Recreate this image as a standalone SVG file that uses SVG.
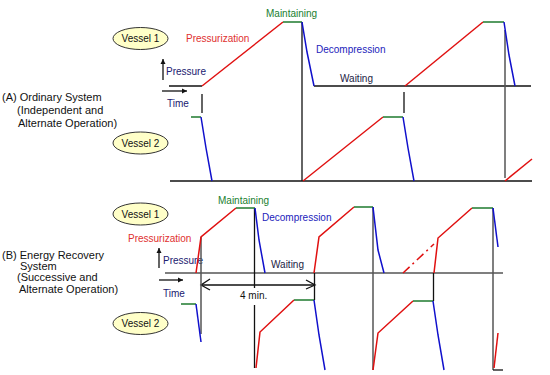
<svg xmlns="http://www.w3.org/2000/svg" width="550" height="375" viewBox="0 0 550 375">
<style>
text{font-family:"Liberation Sans",Arial,sans-serif;font-size:10px}
.title{font-size:11px;fill:#111}
.vessel{fill:#FFFFC8;stroke:#333;stroke-width:1}
.vt{fill:#111;text-anchor:middle}
.red{stroke:#E01010;stroke-width:1.5;fill:none}
.grn{stroke:#1E7A2E;stroke-width:1.5;fill:none}
.blu{stroke:#1010CC;stroke-width:1.5;fill:none}
.blk{stroke:#111;stroke-width:1.3;fill:none}
.gry{stroke:#555;stroke-width:1.5;fill:none}
.tr{fill:#E03030}
.tg{fill:#208030}
.tb{fill:#2222BB}
.tn{fill:#202070}
.tw{fill:#222244}
</style>
<defs>
<marker id="ah" markerWidth="6" markerHeight="6" refX="5" refY="3" orient="auto" markerUnits="userSpaceOnUse">
<path d="M0,0.5 L5,3 L0,5.5 Z" fill="#111"/>
</marker>
</defs>

<!-- Section A -->
<g id="titleA">
<text class="title" x="2" y="101">(A) Ordinary System</text>
<text class="title" x="17" y="114">(Independent and</text>
<text class="title" x="18" y="127">Alternate Operation)</text>
</g>
<g id="A-vessel1"><ellipse class="vessel" cx="140.5" cy="38.5" rx="27.5" ry="11"/><text class="vt" x="140.5" y="42">Vessel 1</text></g>
<g id="A-vessel2"><ellipse class="vessel" cx="140.5" cy="143" rx="27.5" ry="11"/><text class="vt" x="140.5" y="146.5">Vessel 2</text></g>
<g id="A-labels">
<text class="tr" x="186" y="42">Pressurization</text>
<text class="tg" x="266" y="17">Maintaining</text>
<text class="tb" x="316" y="53">Decompression</text>
<text class="tw" x="340" y="82">Waiting</text>
<text class="tn" x="166" y="75">Pressure</text>
<text class="tn" x="167" y="107">Time</text>
</g>
<g id="A-connectors">
<line class="blk" x1="163" y1="80" x2="163" y2="59" marker-end="url(#ah)"/>
<line class="blk" x1="162" y1="91" x2="187" y2="91" marker-end="url(#ah)"/>
<line class="blk" x1="169" y1="86" x2="202" y2="86"/>
<line class="blk" x1="314" y1="86" x2="531" y2="86"/>
<line class="blk" x1="170" y1="181" x2="532" y2="181"/>
<line class="blk" x1="302" y1="22" x2="302" y2="181"/>
<line class="gry" x1="505" y1="30" x2="505" y2="178"/>
<line class="blk" x1="202" y1="94" x2="202" y2="113"/>
<line class="blk" x1="404" y1="92" x2="404" y2="113"/>
<polyline class="red" points="202,86 283,22"/>
<polyline class="grn" points="283,22 302,22"/>
<polyline class="blu" points="302,22 307,52 314,86"/>
<polyline class="red" points="405,86 483,22"/>
<polyline class="grn" points="483,22 504,22"/>
<polyline class="blu" points="504,22 509,55 515,86"/>
<polyline class="grn" points="191,117 201,117"/>
<polyline class="blu" points="201,117 206,148 212,181"/>
<polyline class="red" points="303,181 383,117"/>
<polyline class="grn" points="383,117 403,117"/>
<polyline class="blu" points="403,117 408,148 414,181"/>
<polyline class="red" points="505,181 532,159"/>
</g>

<!-- Section B -->
<g id="titleB">
<text class="title" x="2" y="259">(B) Energy Recovery</text>
<text class="title" x="20" y="270">System</text>
<text class="title" x="17" y="281">(Successive and</text>
<text class="title" x="19" y="293">Alternate Operation)</text>
</g>
<g id="B-vessel1"><ellipse class="vessel" cx="140.5" cy="214" rx="27.5" ry="11"/><text class="vt" x="140.5" y="217.5">Vessel 1</text></g>
<g id="B-vessel2"><ellipse class="vessel" cx="140.5" cy="323.5" rx="27.5" ry="11"/><text class="vt" x="140.5" y="327">Vessel 2</text></g>
<g id="B-labels">
<text class="tr" x="128" y="242">Pressurization</text>
<text class="tg" x="218" y="204">Maintaining</text>
<text class="tb" x="262" y="221">Decompression</text>
<text class="tw" x="271" y="268">Waiting</text>
<text class="tn" x="163" y="264">Pressure</text>
<text class="tn" x="163" y="297">Time</text>
<text fill="#111" x="240" y="299">4 min.</text>
</g>
<g id="B-connectors">
<line class="blk" x1="159" y1="268" x2="159" y2="248" marker-end="url(#ah)"/>
<line class="blk" x1="159" y1="280" x2="183" y2="280" marker-end="url(#ah)"/>
<line class="gry" x1="165" y1="273" x2="503" y2="273"/>
<line class="blk" x1="201" y1="285" x2="315" y2="285"/>
<polyline class="blk" points="210,279 201,285 210,290"/>
<polyline class="blk" points="306,280 315,285 306,289"/>
<line class="gry" x1="201" y1="237" x2="201" y2="334"/>
<line class="blk" x1="254.5" y1="208" x2="254.5" y2="288"/>
<line class="blk" x1="254.5" y1="305" x2="254.5" y2="368"/>
<line class="blk" x1="314.5" y1="273" x2="314.5" y2="300"/>
<line class="gry" x1="373" y1="207" x2="373" y2="370"/>
<line class="blk" x1="433.5" y1="273" x2="433.5" y2="301"/>
<line class="gry" x1="493" y1="208" x2="493" y2="370"/>
<line class="blk" x1="493" y1="370" x2="503" y2="370"/>
<polyline class="red" points="196,273 201,237 236,208"/>
<polyline class="grn" points="236,208 255,208"/>
<polyline class="blu" points="255,208 259,240 265,273"/>
<polyline class="red" points="314,273 319,237 354,207"/>
<polyline class="grn" points="354,207 373,207"/>
<polyline class="blu" points="373,207 378,250 384,273"/>
<line class="red" x1="403" y1="273" x2="434" y2="244" stroke-dasharray="9,4,2,4"/>
<polyline class="red" points="434,273 438,238 472,208"/>
<polyline class="grn" points="472,208 493,208"/>
<polyline class="blu" points="493,208 498,247"/>
<polyline class="grn" points="181,304 196,304"/>
<polyline class="blu" points="196,304 201,342"/>
<polyline class="red" points="256,368 260,332 294,300"/>
<polyline class="grn" points="294,300 314,300"/>
<polyline class="blu" points="314,300 319,335 325,370"/>
<polyline class="red" points="373,370 378,333 413,301"/>
<polyline class="grn" points="413,301 433,301"/>
<polyline class="blu" points="433,301 438,335 444,370"/>
<polyline class="red" points="494,368 498,333"/>
</g>
</svg>
